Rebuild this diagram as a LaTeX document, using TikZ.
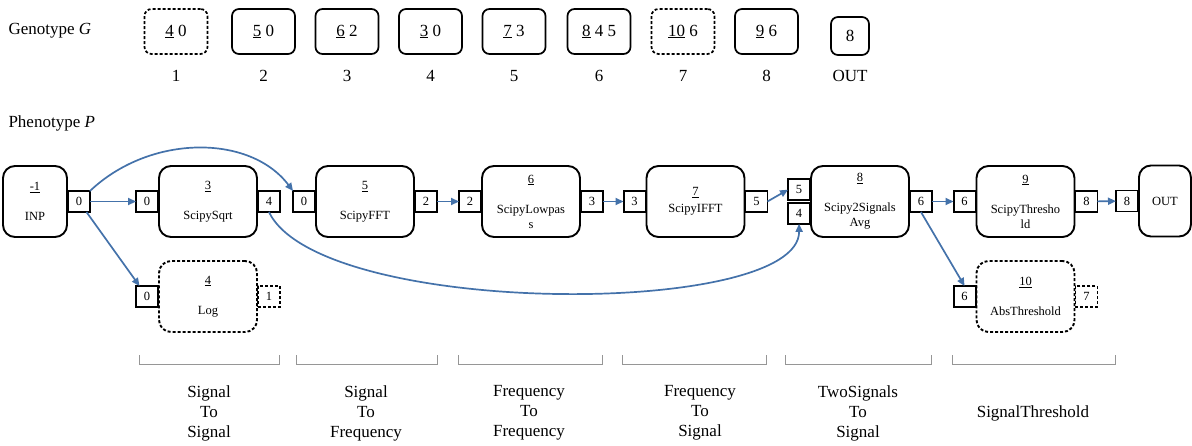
\documentclass[tikz,border=0pt]{standalone}
\usepackage{fontspec}
\setmainfont{Liberation Serif}
\usetikzlibrary{positioning}
\usetikzlibrary{arrows.meta}
\definecolor{linkblue}{RGB}{68,114,170}
\definecolor{bracegray}{RGB}{150,150,150}
\newcommand\portfont{\fontsize{12.5}{15}\selectfont}
\newcommand\labelfont{\fontsize{17}{20}\selectfont}
\tikzset{
  gene/.style={draw, line width=1.7pt, rounded corners=7pt, minimum width=63pt, minimum height=45pt, inner sep=0pt, font=\labelfont},
  func/.style={draw, line width=1.9pt, rounded corners=12pt, minimum width=98pt, minimum height=71pt, inner sep=0pt, align=center, font=\portfont},
  port/.style={draw, line width=1.9pt, minimum width=22pt, minimum height=21pt, inner sep=0pt, outer sep=0pt, font=\portfont},
  inactive/.style={dash pattern=on 3pt off 2pt},
  link/.style={draw=linkblue, line width=1.7pt, -{Triangle[length=8pt,width=7pt]}},
  brace/.style={draw=bracegray, line width=0.9pt}
}

\begin{document}
\begin{tikzpicture}[x=1pt, y=-1pt]
\useasboundingbox (0,0) rectangle (1192,445);
% genotype row
\node[anchor=west, font=\labelfont] (gtitle) at (5,31) {Genotype \textit{G}};
\node[gene, inactive] (g1) at (176,31.5) {\underline{4} 0};
\node[gene] (g2) at (263.5,31.5) {\underline{5} 0};
\node[gene] (g3) at (347,31.5) {\underline{6} 2};
\node[gene] (g4) at (430.5,31.5) {\underline{3} 0};
\node[gene] (g5) at (514,31.5) {\underline{7} 3};
\node[gene] (g6) at (599,31.5) {\underline{8} 4 5};
\node[gene, inactive] (g7) at (683,31.5) {\underline{10} 6};
\node[gene] (g8) at (766.5,31.5) {\underline{9} 6};
\node[gene, minimum width=38pt, minimum height=38pt] (gout) at (850,36) {8};
\node[font=\labelfont] (i1) at (176,76) {1};
\node[font=\labelfont] (i2) at (263.5,76) {2};
\node[font=\labelfont] (i3) at (347,76) {3};
\node[font=\labelfont] (i4) at (430.5,76) {4};
\node[font=\labelfont] (i5) at (514,76) {5};
\node[font=\labelfont] (i6) at (599,76) {6};
\node[font=\labelfont] (i7) at (683,76) {7};
\node[font=\labelfont] (i8) at (766.5,76) {8};
\node[font=\labelfont] (iout) at (850,76) {OUT};

% phenotype
\node[anchor=west, font=\labelfont] (ptitle) at (5,123) {Phenotype \textit{P}};
\node[func, minimum width=64pt] (inp) at (35,201.5) {\underline{-1}\\[15pt]INP};
\node[port, right=0pt of inp] (inpout) {0};

\node[func] (sqrt) at (208,201.5) {\underline{3}\\[15pt]ScipySqrt};
\node[port, left=0pt of sqrt] (sqrtin) {0};
\node[port, right=0pt of sqrt] (sqrtout) {4};

\node[func] (fft) at (365,201.5) {\underline{5}\\[15pt]ScipyFFT};
\node[port, left=0pt of fft] (fftin) {0};
\node[port, right=0pt of fft] (fftout) {2};

\node[func] (lowpass) at (531,201.5) {\underline{6}\\[15pt]ScipyLowpas\\s};
\node[port, left=0pt of lowpass] (lpin) {2};
\node[port, right=0pt of lowpass] (lpout) {3};

\node[func] (ifft) at (695.5,201.5) {\underline{7}\\[2pt]ScipyIFFT};
\node[port, left=0pt of ifft] (ifftin) {3};
\node[port, right=0pt of ifft] (ifftout) {5};

\node[func] (avg) at (860,201.5) {\underline{8}\\[15pt]Scipy2Signals\\Avg};
\node[port, anchor=south east] (avgin5) at ([yshift=1.3pt]avg.west) {5};
\node[port, anchor=north east] (avgin4) at ([yshift=-1.3pt]avg.west) {4};
\node[port, right=0pt of avg] (avgout) {6};

\node[func] (thr) at (1025.5,201.5) {\underline{9}\\[15pt]ScipyThresho\\ld};
\node[port, left=0pt of thr] (thrin) {6};
\node[port, right=0pt of thr] (throut) {8};

\node[func, minimum width=52pt, anchor=west] (out) at (1138,201) {OUT};
\node[port, left=0pt of out] (outin) {8};

\node[func, inactive] (log) at (208,296.5) {\underline{4}\\[15pt]Log};
\node[port, left=0pt of log] (login) {0};
\node[port, inactive, right=0pt of log] (logout) {1};

\node[func, inactive] (abs) at (1025.5,296.5) {\underline{10}\\[15pt]AbsThreshold};
\node[port, left=0pt of abs] (absin) {6};
\node[port, inactive, right=0pt of abs] (absout) {7};

% connections
\draw[link] (inpout) -- (sqrtin);
\draw[link] (inpout.north east) .. controls (150,134) and (250,134) .. (fftin.north west);
\draw[link] (inpout) -- (login);
\draw[link] (sqrtout.south) .. controls (320,318) and (800,318) .. (avgin4.south);
\draw[link] (fftout) -- (lpin);
\draw[link] (lpout) -- (ifftin);
\draw[link] (ifftout.east) -- (avgin5.west);
\draw[link] (avgout) -- (thrin);
\draw[link] (avgout.south) -- (absin.north);
\draw[link] (throut) -- (outin);

% function groups
\draw[brace] (139,355) |- (279,364) -- (279,355);
\draw[brace] (296,355) |- (437,364) -- (437,355);
\draw[brace] (458,355) |- (602,364) -- (602,355);
\draw[brace] (622,355) |- (766,364) -- (766,355);
\draw[brace] (785,355) |- (931,364) -- (931,355);
\draw[brace] (952,355) |- (1115,364) -- (1115,355);
\node[align=center, font=\labelfont] (s2s) at (209,413) {Signal\\To\\Signal};
\node[align=center, font=\labelfont] (s2f) at (366,413) {Signal\\To\\Frequency};
\node[align=center, font=\labelfont] (f2f) at (529,413) {Frequency\\To\\Frequency};
\node[align=center, font=\labelfont] (f2s) at (700,413) {Frequency\\To\\Signal};
\node[align=center, font=\labelfont] (t2s) at (858,413) {TwoSignals\\To\\Signal};
\node[font=\labelfont] (sth) at (1033,413) {SignalThreshold};
\end{tikzpicture}
\end{document}
